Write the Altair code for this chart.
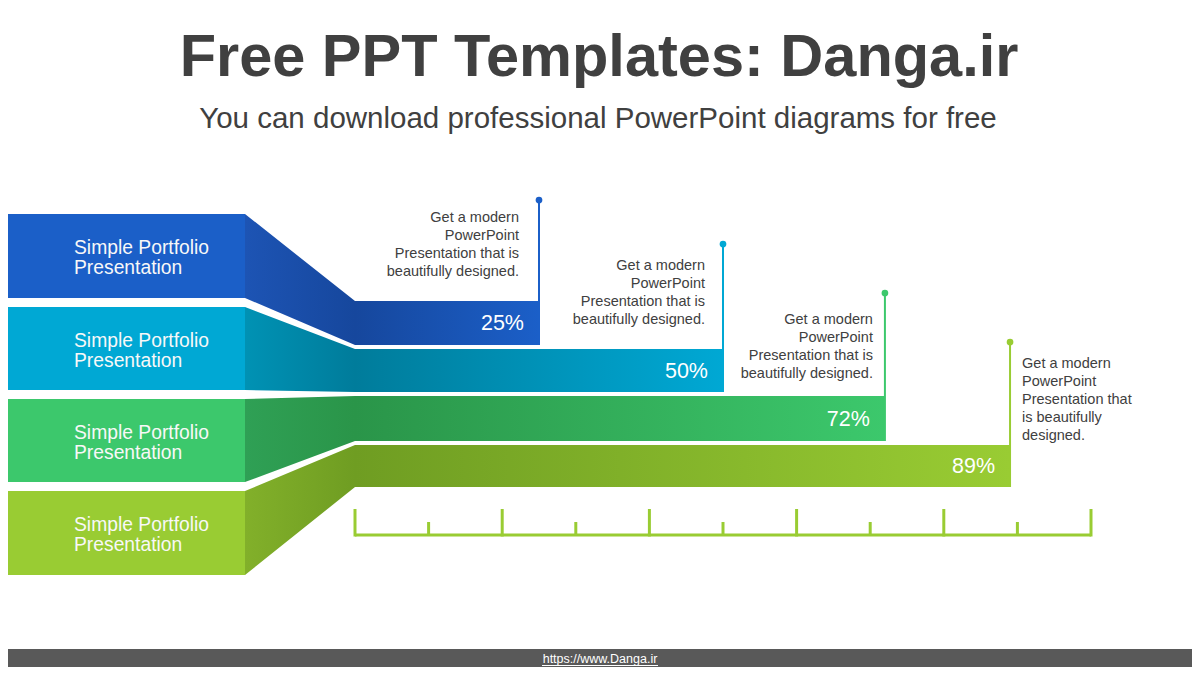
import altair as alt
import pandas as pd

# ---------------- data ----------------
row_labels = ["Simple Portfolio\nPresentation"] * 4
values = [25, 50, 72, 89]
pct_labels = ["25%", "50%", "72%", "89%"]
descriptions = [
    "Get a modern\nPowerPoint\nPresentation that is\nbeautifully designed.",
    "Get a modern\nPowerPoint\nPresentation that is\nbeautifully designed.",
    "Get a modern\nPowerPoint\nPresentation that is\nbeautifully designed.",
    "Get a modern\nPowerPoint\nPresentation that\nis beautifully\ndesigned.",
]
major_ticks = [0, 20, 40, 60, 80, 100]
minor_ticks = [10, 30, 50, 70, 90]
title_text = "Free PPT Templates: Danga.ir"
subtitle_text = "You can download professional PowerPoint diagrams for free"
footer_text = "https://www.Danga.ir"

# ---------------- styles ----------------
bright = ["#1B5FC8", "#00A8D4", "#3CC86C", "#99CC33"]
conn_light = ["#1D54B4", "#0092B4", "#2FA055", "#82B02A"]
conn_dark = ["#16479D", "#007C9B", "#2A9549", "#6F9D22"]
TEXT_DARK = "#404040"
FONT = "Liberation Sans"

# ---------------- layout (reference pixels) ----------------
W, H = 1184, 659
M = 8
PX0, PX100 = 355, 1091
BLOCK_RIGHT = 245
BLOCK_TOP = [214, 307, 399, 491]
BLOCK_BOT = [298, 390, 482, 575]
BAR_TOP = [301, 349, 396, 445]
BAR_BOT = [345, 392, 441, 487]
DOT_Y = [200, 244, 293, 342]
DESC_Y = [222, 270, 324, 368]
DESC_DX = [-20, -18, -12, 12]
DESC_ALIGN = ["right", "right", "right", "left"]
RULER_Y, MAJOR_TOP, MINOR_TOP = 535, 509, 522


def vx(px):
    return (px - PX0) / (PX100 - PX0) * 100


def px_of(v):
    return PX0 + v * (PX100 - PX0) / 100


XS = alt.Scale(domain=[vx(M), vx(M + W)], nice=False, zero=False)
YS = alt.Scale(domain=[M, M + H], nice=False, zero=False, reverse=True)


def X(f):
    return alt.X(f, type="quantitative", scale=XS, axis=None)


def Y(f):
    return alt.Y(f, type="quantitative", scale=YS, axis=None)


layers = []

# footer band
layers.append(
    alt.Chart(pd.DataFrame({"a": [0]})).mark_rect(color="#595959").encode(
        x=alt.value(0), x2=alt.value(W), y=alt.value(649 - M), y2=alt.value(H)
    )
)

# left blocks
blocks = pd.DataFrame({
    "x": [vx(M)] * 4, "x2": [vx(BLOCK_RIGHT)] * 4,
    "y": BLOCK_TOP, "y2": BLOCK_BOT, "c": bright,
})
layers.append(
    alt.Chart(blocks).mark_rect().encode(
        x=X("x"), x2="x2", y=Y("y"), y2="y2",
        color=alt.Color("c:N", scale=None),
    )
)

# connectors + bars
for i in range(4):
    end_px = px_of(values[i])
    off = (PX0 - BLOCK_RIGHT) / (end_px - BLOCK_RIGHT)
    df = pd.DataFrame({
        "x": [vx(BLOCK_RIGHT), 0, values[i]],
        "y": [BLOCK_TOP[i], BAR_TOP[i], BAR_TOP[i]],
        "y2": [BLOCK_BOT[i], BAR_BOT[i], BAR_BOT[i]],
    })
    grad = alt.Gradient(
        gradient="linear",
        stops=[
            alt.GradientStop(color=conn_light[i], offset=0),
            alt.GradientStop(color=conn_dark[i], offset=off),
            alt.GradientStop(color=bright[i], offset=1),
        ],
        x1=0, x2=1, y1=0, y2=0,
    )
    layers.append(
        alt.Chart(df).mark_area(color=grad, orient="vertical", opacity=1).encode(
            x=X("x"), y=Y("y"), y2="y2"
        )
    )

# vertical lines and dots
lines = pd.DataFrame({"x": values, "y": DOT_Y, "y2": BAR_BOT, "c": bright})
layers.append(
    alt.Chart(lines).mark_rule(strokeWidth=2).encode(
        x=X("x"), y=Y("y"), y2="y2", color=alt.Color("c:N", scale=None)
    )
)
layers.append(
    alt.Chart(lines).mark_circle(size=45, opacity=1).encode(
        x=X("x"), y=Y("y"), color=alt.Color("c:N", scale=None)
    )
)

# percent labels
pct = pd.DataFrame({
    "x": values,
    "y": [(a + b) / 2 for a, b in zip(BAR_TOP, BAR_BOT)],
    "t": pct_labels,
})
layers.append(
    alt.Chart(pct).mark_text(
        align="right", baseline="middle", dx=-15, dy=1, fontSize=21.5,
        font=FONT, color="#FFFFFF"
    ).encode(x=X("x"), y=Y("y"), text="t:N")
)

# description texts
for i in range(4):
    d = pd.DataFrame({"x": [values[i]], "y": [DESC_Y[i]], "t": [descriptions[i]]})
    layers.append(
        alt.Chart(d).mark_text(
            align=DESC_ALIGN[i], baseline="alphabetic", dx=DESC_DX[i],
            fontSize=14.5, lineHeight=18, lineBreak="\n", font=FONT,
            color=TEXT_DARK
        ).encode(x=X("x"), y=Y("y"), text="t:N")
    )

# left block labels
lab = pd.DataFrame({
    "x": [vx(74)] * 4,
    "y": [t + 40 for t in BLOCK_TOP],
    "t": row_labels,
})
layers.append(
    alt.Chart(lab).mark_text(
        align="left", baseline="alphabetic", fontSize=19.3, lineHeight=20,
        lineBreak="\n", font=FONT, color="#F8F8F8"
    ).encode(x=X("x"), y=Y("y"), text="t:N")
)

# ruler
ruler = pd.DataFrame({"x": [0], "x2": [100], "y": [RULER_Y]})
layers.append(
    alt.Chart(ruler).mark_rule(strokeWidth=3, color="#99CC33").encode(
        x=X("x"), x2="x2", y=Y("y")
    )
)
maj = pd.DataFrame({"x": major_ticks, "y": [MAJOR_TOP] * 6, "y2": [RULER_Y + 1.5] * 6})
layers.append(
    alt.Chart(maj).mark_rule(strokeWidth=3, color="#99CC33").encode(
        x=X("x"), y=Y("y"), y2="y2"
    )
)
mnr = pd.DataFrame({"x": minor_ticks, "y": [MINOR_TOP] * 5, "y2": [RULER_Y] * 5})
layers.append(
    alt.Chart(mnr).mark_rule(strokeWidth=3, color="#99CC33").encode(
        x=X("x"), y=Y("y"), y2="y2"
    )
)

# title, subtitle, footer text
layers.append(
    alt.Chart(pd.DataFrame({"t": [title_text]})).mark_text(
        align="center", baseline="alphabetic", fontSize=59.5, fontWeight="bold",
        font=FONT, color=TEXT_DARK
    ).encode(x=alt.value(599 - M), y=alt.value(76 - M), text="t:N")
)
layers.append(
    alt.Chart(pd.DataFrame({"t": [subtitle_text]})).mark_text(
        align="center", baseline="alphabetic", fontSize=29.5,
        font=FONT, color=TEXT_DARK
    ).encode(x=alt.value(598 - M), y=alt.value(128 - M), text="t:N")
)
layers.append(
    alt.Chart(pd.DataFrame({"t": [footer_text]})).mark_text(
        align="center", baseline="alphabetic", fontSize=12.5,
        font=FONT, color="#FFFFFF"
    ).encode(x=alt.value(600 - M), y=alt.value(663 - M), text="t:N")
)
layers.append(
    alt.Chart(pd.DataFrame({"a": [0]})).mark_rule(color="#FFFFFF", strokeWidth=1).encode(
        x=alt.value(542 - M), x2=alt.value(658 - M), y=alt.value(665.5 - M)
    )
)

chart = (
    alt.layer(*layers)
    .properties(width=W, height=H, padding=0,
                autosize=alt.AutoSizeParams(type="none"), background="#FFFFFF")
    .configure_view(stroke=None)
)

chart.save("out.html", embed_options={"renderer": "svg", "actions": False})
